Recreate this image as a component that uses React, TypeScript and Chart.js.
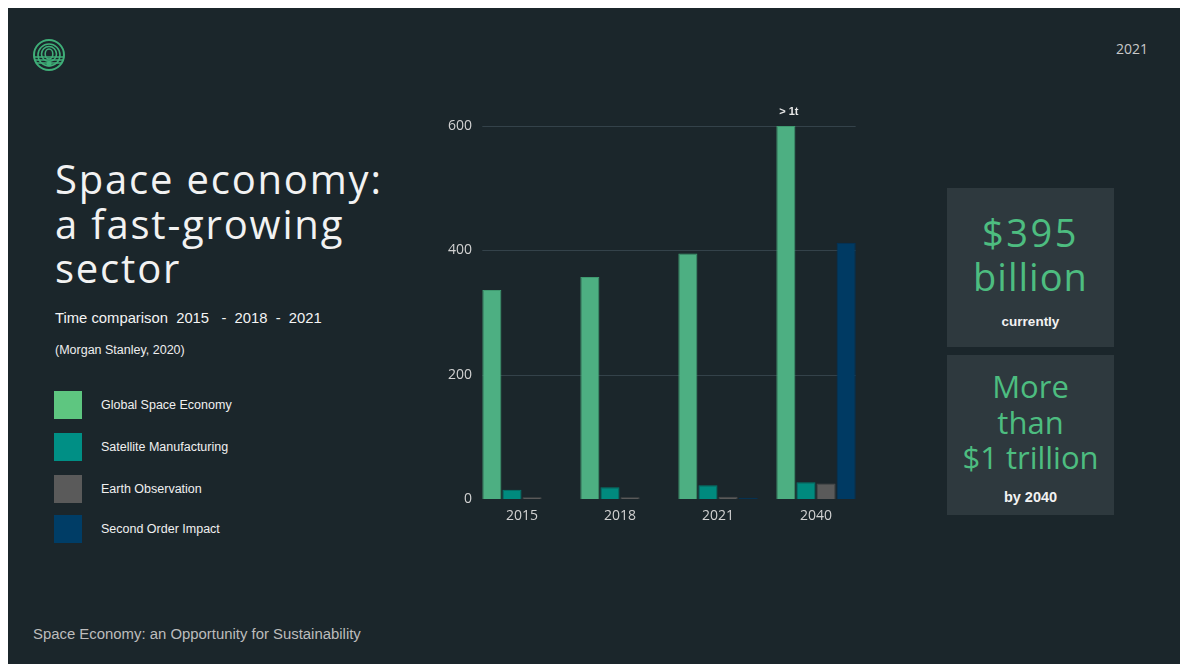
import React, { useEffect, useRef } from "react";
import { Chart, registerables } from "chart.js";

Chart.register(...registerables);

const categories = ["2015", "2018", "2021", "2040"];
const globalSpaceEconomy = [336, 357, 395, 600];
const satelliteManufacturing = [15, 19, 22, 27];
const earthObservation = [3, 3, 3.5, 25];
const secondOrderImpact = [0, 0, 2, 412];
const yTicks = [0, 200, 400, 600];
const capLabel = "> 1t";

const seriesNames = [
  "Global Space Economy",
  "Satellite Manufacturing",
  "Earth Observation",
  "Second Order Impact",
];
const barColors = ["#4daf82", "#008a7e", "#5a5a5a", "#003a63"];
const barBorders = ["#3f9a70", "#007a6f", "#4c4c4c", "#00335a"];
const legendColors = ["#5ec680", "#008f85", "#5a5a5a", "#003d66"];

const BG = "#1b262b";

const gridPlugin = {
  id: "customGrid",
  beforeDatasetsDraw(chart: any) {
    const ctx = chart.ctx;
    const y = chart.scales.y;
    const first = chart.getDatasetMeta(0).data[0];
    const lastMeta = chart.getDatasetMeta(chart.data.datasets.length - 1);
    const last = lastMeta.data[lastMeta.data.length - 1];
    const x0 = first.x - first.width / 2;
    const x1 = last.x + last.width / 2;
    ctx.save();
    ctx.strokeStyle = "#34424a";
    ctx.lineWidth = 1;
    yTicks.forEach((v) => {
      if (v === 0) return;
      const py = Math.round(y.getPixelForValue(v)) + 0.5;
      ctx.beginPath();
      ctx.moveTo(x0, py);
      ctx.lineTo(x1, py);
      ctx.stroke();
    });
    ctx.restore();
  },
  afterDatasetsDraw(chart: any) {
    const ctx = chart.ctx;
    const meta = chart.getDatasetMeta(0);
    const bar = meta.data[meta.data.length - 1];
    ctx.save();
    ctx.fillStyle = "#e8e8e8";
    ctx.font = "bold 11px 'Liberation Sans', Arial, sans-serif";
    ctx.textAlign = "center";
    ctx.textBaseline = "middle";
    ctx.fillText(capLabel, bar.x + 3, bar.y - 14);
    ctx.restore();
  },
};

function Logo() {
  return (
    <svg width="34" height="34" viewBox="0 0 34 34" style={{ position: "absolute", left: 24, top: 30 }}>
      <defs>
        <clipPath id="lc">
          <circle cx="17" cy="17" r="15.5" />
        </clipPath>
      </defs>
      <circle cx="17" cy="17" r="15" fill="none" stroke="#3fae78" strokeWidth="2" />
      <g clipPath="url(#lc)" fill="none" stroke="#3fae78" strokeWidth="1.6">
        <circle cx="17" cy="17" r="11" />
        <circle cx="17" cy="16" r="7.5" />
        <ellipse cx="17" cy="16" rx="3.8" ry="5" />
        <line x1="0" y1="19" x2="34" y2="19" />
        <line x1="0" y1="22" x2="34" y2="22" />
        <line x1="0" y1="25" x2="34" y2="25" />
      </g>
      <circle cx="17" cy="26" r="2.6" fill="#3fae78" />
    </svg>
  );
}

export default function App() {
  const canvasRef = useRef<HTMLCanvasElement | null>(null);

  useEffect(() => {
    const series = [globalSpaceEconomy, satelliteManufacturing, earthObservation, secondOrderImpact];
    const chart = new Chart(canvasRef.current as HTMLCanvasElement, {
      type: "bar",
      data: {
        labels: categories,
        datasets: series.map((d, i) => ({
          label: seriesNames[i],
          data: d,
          backgroundColor: barColors[i],
          borderColor: barBorders[i],
          borderWidth: 1,
          barPercentage: 0.95,
          categoryPercentage: 0.82,
        })),
      },
      options: {
        animation: false,
        responsive: false,
        maintainAspectRatio: false,
        layout: { padding: { top: 26, right: 15, left: 0, bottom: 0 } },
        plugins: { legend: { display: false }, tooltip: { enabled: false } },
        scales: {
          x: {
            grid: { display: false, drawTicks: false },
            border: { display: false },
            ticks: {
              color: "#d2d2d2",
              font: { family: "'Open Sans', sans-serif", size: 14 },
              padding: 9,
            },
            afterFit: (s: any) => {
              s.height = 41;
            },
          },
          y: {
            min: 0,
            max: 600,
            grid: { display: false, drawTicks: false },
            border: { display: false },
            afterBuildTicks: (s: any) => {
              s.ticks = yTicks.map((v) => ({ value: v }));
            },
            ticks: {
              color: "#d2d2d2",
              font: { family: "'Open Sans', sans-serif", size: 14 },
              padding: 1,
            },
            afterFit: (s: any) => {
              s.width = 53;
            },
          },
        },
      },
      plugins: [gridPlugin],
    });
    return () => chart.destroy();
  }, []);

  const sans = "'Liberation Sans', Arial, sans-serif";
  const title = "'Open Sans', sans-serif";

  return (
    <div
      style={{
        position: "fixed",
        left: 8,
        top: 8,
        right: 0,
        bottom: 0,
        background: BG,
        overflow: "hidden",
        fontFamily: sans,
      }}
    >
      <Logo />
      <div style={{ position: "absolute", left: 1108, top: 31, color: "#c9c9c9", fontSize: 14, fontFamily: "'Open Sans', sans-serif" }}>
        2021
      </div>

      <div
        style={{
          position: "absolute",
          left: 47,
          top: 149,
          color: "#f2f2f2",
          fontFamily: title,
          fontSize: 40,
          lineHeight: "44.5px",
          letterSpacing: 1.8,
          whiteSpace: "nowrap",
        }}
      >
        Space economy:
        <br />
        a fast-growing
        <br />
        sector
      </div>

      <div style={{ position: "absolute", left: 47, top: 302, color: "#f4f4f4", fontSize: 14.8, whiteSpace: "pre" }}>
        {"Time comparison  2015   -  2018  -  2021"}
      </div>
      <div style={{ position: "absolute", left: 47, top: 335, color: "#eeeeee", fontSize: 12.5, whiteSpace: "pre" }}>
        (Morgan Stanley, 2020)
      </div>

      {seriesNames.map((name, i) => {
        const tops = [383, 425, 467, 507];
        return (
          <React.Fragment key={name}>
            <div
              style={{
                position: "absolute",
                left: 46,
                top: tops[i],
                width: 28,
                height: 28,
                background: legendColors[i],
              }}
            />
            <div
              style={{
                position: "absolute",
                left: 93,
                top: tops[i] + 6,
                color: "#f0f0f0",
                fontSize: 12.5,
                lineHeight: "16px",
                whiteSpace: "nowrap",
              }}
            >
              {name}
            </div>
          </React.Fragment>
        );
      })}

      <canvas
        ref={canvasRef}
        width={460}
        height={440}
        style={{ position: "absolute", left: 412, top: 92, width: 460, height: 440 }}
      />

      <div
        style={{
          position: "absolute",
          left: 939,
          top: 180,
          width: 167,
          height: 159,
          background: "#2e393e",
          textAlign: "center",
        }}
      >
        <div style={{ fontFamily: title, color: "#4dbd80", fontSize: 38, lineHeight: "44px", marginTop: 22, letterSpacing: 1 }}>
          <span style={{ letterSpacing: 2.5 }}>$395</span>
          <br />
          billion
        </div>
        <div style={{ color: "#f2f2f2", fontSize: 13.5, marginTop: 16, fontWeight: 700 }}>currently</div>
      </div>

      <div
        style={{
          position: "absolute",
          left: 939,
          top: 347,
          width: 167,
          height: 160,
          background: "#2e393e",
          textAlign: "center",
        }}
      >
        <div style={{ fontFamily: title, color: "#4dbd80", fontSize: 31, lineHeight: "35.5px", marginTop: 14 }}>
          More
          <br />
          than
          <br />
          $1 trillion
        </div>
        <div style={{ color: "#f2f2f2", fontSize: 14.5, marginTop: 13, fontWeight: 700 }}>by 2040</div>
      </div>

      <div style={{ position: "absolute", left: 25, top: 618, color: "#bcbcbc", fontSize: 14.9, whiteSpace: "nowrap" }}>
        Space Economy: an Opportunity for Sustainability
      </div>
    </div>
  );
}
